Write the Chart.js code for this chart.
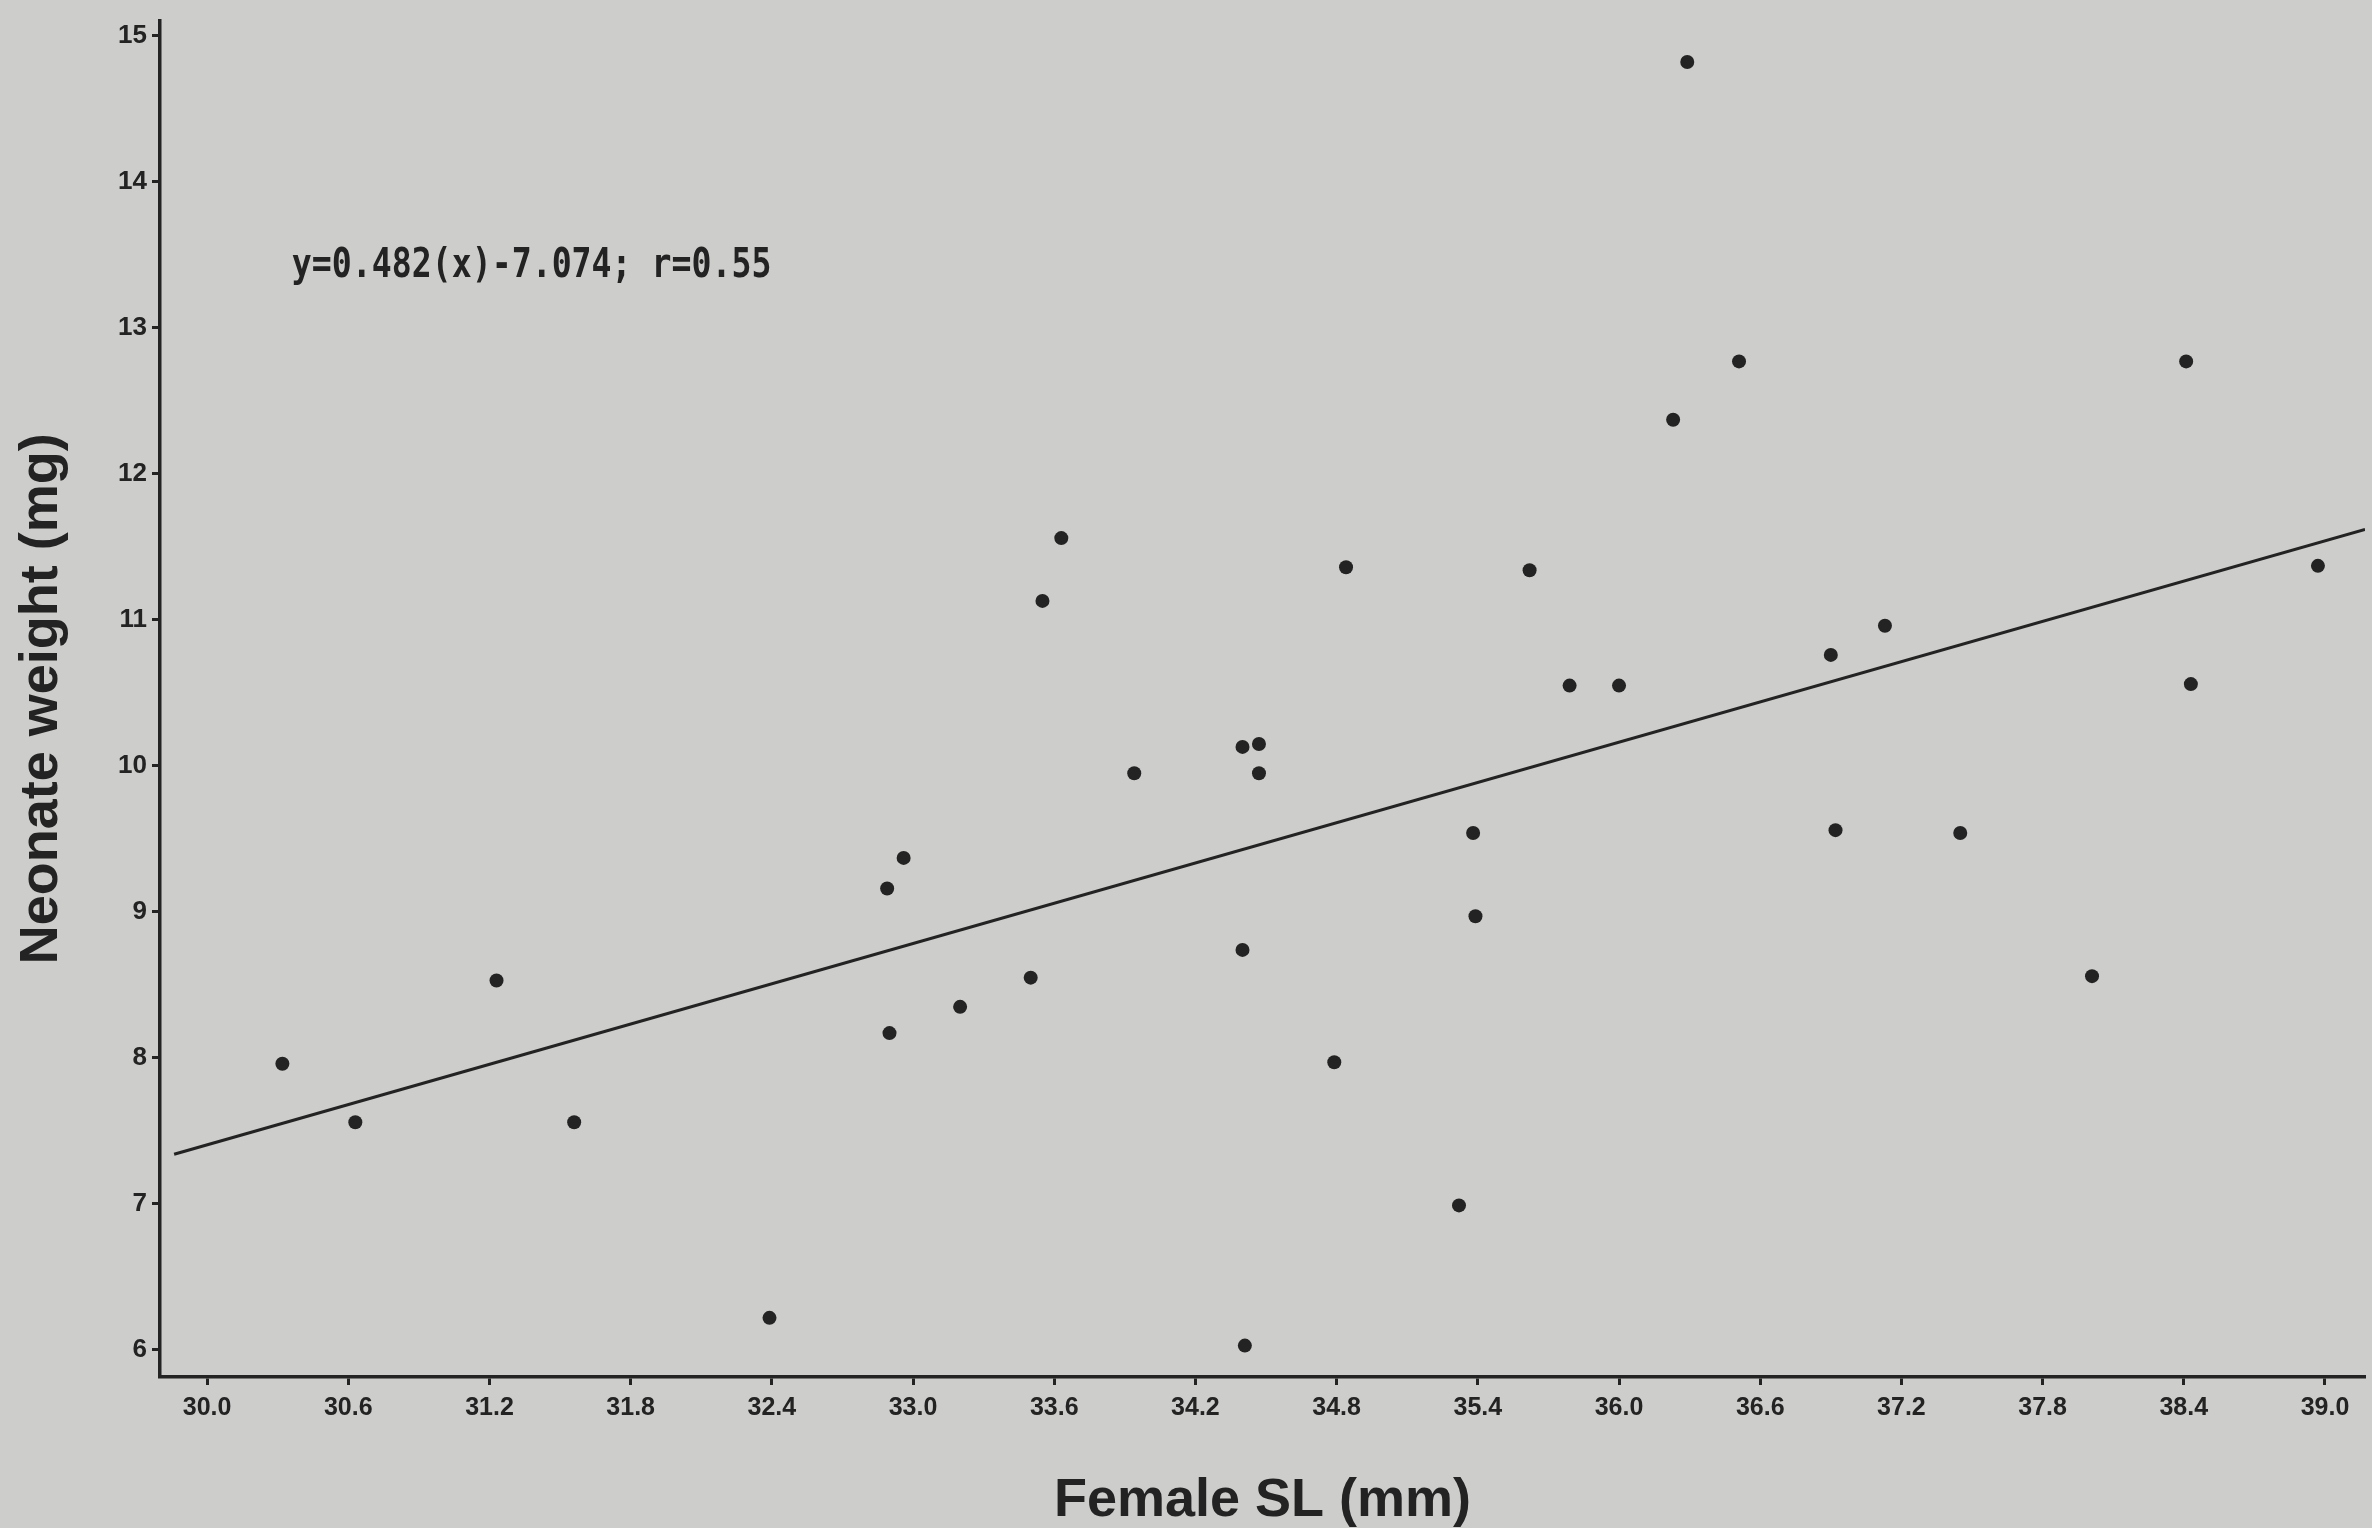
<!DOCTYPE html>
<html lang="en">
<head>
    <meta charset="UTF-8">
    <title>Neonate weight vs Female SL</title>
    <style>
      * {
    margin: 0;
    padding: 0;
    box-sizing: border-box;
}

body {
    background: #cdcdcb;
    width: 2372px;
    height: 1528px;
    overflow: hidden;
}

#chart-container {
    position: relative;
    width: 2372px;
    height: 1528px;
}
    </style>
</head>
<body>
    <div id="chart-container">
        <canvas id="myChart"></canvas>
    </div>
<script src="https://cdn.jsdelivr.net/npm/chart.js"></script>
    <script>
        // female standard length (mm) for each brood
        const femaleSL = [30.32, 30.63, 31.23, 31.56, 32.39, 32.89, 32.96, 32.90, 33.20, 33.50,
            33.55, 33.63, 33.94, 34.40, 34.47, 34.47, 34.40, 34.41, 34.79, 34.84,
            35.32, 35.38, 35.39, 35.62, 35.79, 36.00, 36.23, 36.29, 36.51, 36.90,
            36.92, 37.13, 37.45, 38.01, 38.41, 38.43, 38.97];
        // mean neonate weight (mg)
        const neonateWeight = [7.96, 7.56, 8.53, 7.56, 6.22, 9.16, 9.37, 8.17, 8.35, 8.55,
            11.13, 11.56, 9.95, 10.13, 10.15, 9.95, 8.74, 6.03, 7.97, 11.36,
            6.99, 9.54, 8.97, 11.34, 10.55, 10.55, 12.37, 14.82, 12.77, 10.76,
            9.56, 10.96, 9.54, 8.56, 12.77, 10.56, 11.37];

        // fitted line as drawn (ends)
        const fitX = [29.86, 39.17];
        const fitY = [7.34, 11.62];

        const xTicks = [30.0, 30.6, 31.2, 31.8, 32.4, 33.0, 33.6, 34.2, 34.8, 35.4, 36.0, 36.6, 37.2, 37.8, 38.4, 39.0];
        const yTicks = [6, 7, 8, 9, 10, 11, 12, 13, 14, 15];

        const equationText = 'y=0.482(x)-7.074; r=0.55';
        const equationPos = [30.36, 13.42];

        const ink = '#232323';

        Chart.defaults.font.family = "'Liberation Sans', Arial, sans-serif";
        Chart.defaults.color = ink;

        const points = femaleSL.map((x, i) => ({ x: x, y: neonateWeight[i] }));
        const fitLine = fitX.map((x, i) => ({ x: x, y: fitY[i] }));

        // draws the regression equation inside the plot
        const equationLabel = {
            id: 'equationLabel',
            afterDatasetsDraw(chart) {
                const ctx = chart.ctx;
                const px = chart.scales.x.getPixelForValue(equationPos[0]);
                const py = chart.scales.y.getPixelForValue(equationPos[1]);
                ctx.save();
                ctx.translate(px, py);
                ctx.scale(0.83, 1);
                ctx.font = "bold 40px 'DejaVu Sans Mono', 'Liberation Mono', monospace";
                ctx.fillStyle = ink;
                ctx.textAlign = 'left';
                ctx.textBaseline = 'middle';
                ctx.fillText(equationText, 0, 0);
                ctx.restore();
            }
        };

        const ctx = document.getElementById('myChart').getContext('2d');
        const myChart = new Chart(ctx, {
            type: 'scatter',
            data: {
                datasets: [{
                    label: 'Broods',
                    data: points,
                    backgroundColor: ink,
                    borderColor: ink,
                    pointRadius: 7,
                    pointBorderWidth: 0
                }, {
                    label: 'Fit',
                    data: fitLine,
                    showLine: true,
                    borderColor: ink,
                    borderWidth: 3,
                    pointRadius: 0
                }]
            },
            options: {
                responsive: true,
                maintainAspectRatio: false,
                animation: false,
                layout: { padding: 0 },
                plugins: {
                    legend: { display: false },
                    tooltip: { enabled: false }
                },
                scales: {
                    x: {
                        type: 'linear',
                        min: 29.80,
                        max: 39.17,
                        afterFit: s => { s.height = 151; },
                        afterBuildTicks: s => { s.ticks = xTicks.map(v => ({ value: v })); },
                        ticks: {
                            padding: 8,
                            font: { size: 25, weight: 'bold' },
                            callback: v => Number(v).toFixed(1)
                        },
                        grid: {
                            drawOnChartArea: false,
                            tickLength: 8,
                            tickWidth: 3,
                            tickColor: ink
                        },
                        border: { color: ink, width: 3.5 },
                        title: {
                            display: true,
                            text: 'Female SL (mm)',
                            font: { size: 54, weight: 'bold', lineHeight: 1.0 },
                            padding: { top: 0, bottom: 0 }
                        }
                    },
                    y: {
                        type: 'linear',
                        min: 5.815,
                        max: 15.104,
                        afterFit: s => { s.width = 160; },
                        afterBuildTicks: s => { s.ticks = yTicks.map(v => ({ value: v })); },
                        ticks: {
                            padding: 5,
                            font: { size: 26, weight: 'bold' }
                        },
                        grid: {
                            drawOnChartArea: false,
                            tickLength: 8,
                            tickWidth: 3,
                            tickColor: ink
                        },
                        border: { color: ink, width: 3.5 },
                        title: {
                            display: true,
                            text: 'Neonate weight (mg)',
                            font: { size: 54, weight: 'bold', lineHeight: 1.2 },
                            padding: { top: 10, bottom: 0 }
                        }
                    }
                }
            },
            plugins: [equationLabel]
        });
    </script>
</body>
</html>
